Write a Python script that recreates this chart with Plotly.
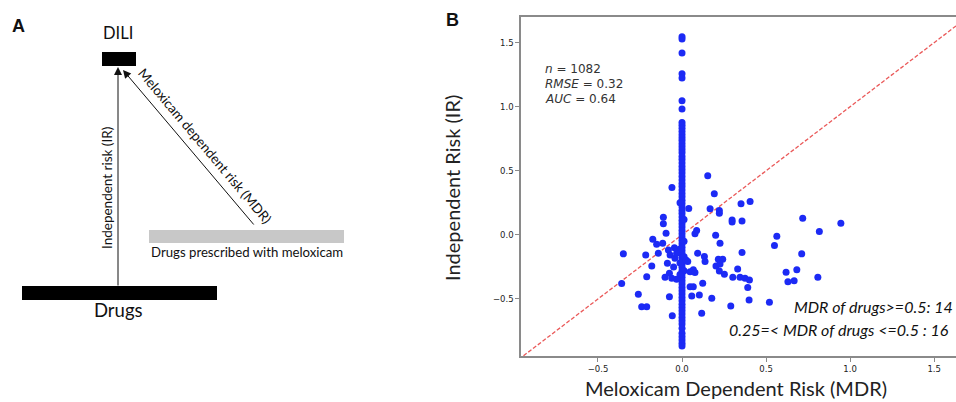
import plotly.graph_objects as go

W, H = 956, 402

# ---------------- data (panel B) ----------------
# drugs with MDR == 0 (vertical column)
col_y = [1.545, 1.529, 1.419, 1.258, 1.224, 1.047, 0.982,
         0.877, 0.855, 0.832, 0.806, 0.781, 0.758, 0.737, 0.712, 0.688, 0.664,
         0.640, 0.612, 0.588, 0.561, 0.533, 0.508, 0.482, 0.455, 0.428, 0.401,
         0.377, 0.350, 0.322, 0.297, 0.271, 0.244, 0.218, 0.190, 0.166, 0.139,
         0.112, 0.086, 0.061, 0.034, 0.008, -0.017, -0.044, -0.070, -0.097,
         -0.122, -0.148, -0.175, -0.201, -0.228, -0.253, -0.279, -0.306, -0.331,
         -0.358, -0.383, -0.410, -0.436, -0.462, -0.489, -0.514, -0.541, -0.566,
         -0.592, -0.618, -0.644, -0.670, -0.696, -0.729, -0.768, -0.794, -0.820,
         -0.846, -0.867]
col_x = [0.0] * len(col_y)
# slight spread of the column around 0
col_side_x = [0.012, -0.012, 0.012, -0.012, 0.012, -0.012, 0.012, -0.012]
col_side_y = [-0.05, -0.11, -0.17, -0.22, -0.28, -0.31, 0.12, 0.25]

# other drugs
mdr = [-0.349, -0.359, -0.111, -0.111, -0.095, -0.174, -0.151, -0.115, -0.216,
       -0.180, -0.141, -0.081, -0.071, -0.087, -0.042, -0.032, -0.210, -0.101,
       -0.075, -0.061, -0.032, -0.260, -0.075, -0.240, -0.210, -0.058, -0.060,
       -0.045, -0.050,
       0.040, 0.153, 0.192, 0.167, 0.222, 0.222, 0.351, 0.405, 0.298, 0.298,
       0.357, 0.087, 0.077, 0.200, 0.226, 0.564, 0.550, 0.357, 0.093, 0.133,
       0.137, 0.216, 0.242, 0.202, 0.226, 0.067, 0.048, 0.077, 0.222, 0.252,
       0.331, 0.302, 0.345, 0.375, 0.401, 0.619, 0.630, 0.123, 0.048, 0.067,
       0.391, 0.058, 0.103, 0.177, 0.399, 0.520, 0.290, 0.718, 0.945, 0.817,
       0.712, 0.683, 0.667, 0.808, 0.117, 0.024, 0.034]
ir = [-0.148, -0.380, 0.138, 0.086, 0.013, -0.034, -0.073, -0.065, -0.156,
      -0.242, -0.143, -0.117, -0.156, -0.221, -0.182, -0.143, -0.326, -0.331,
      -0.299, -0.339, -0.346, -0.464, -0.482, -0.560, -0.560, -0.630, 0.370,
      -0.100, -0.250,
      0.205, 0.461, 0.320, 0.203, 0.190, 0.169, 0.242, 0.260, 0.117, 0.100,
      0.109, 0.034, 0.008, -0.003, -0.065, -0.010, -0.083, -0.138, -0.143, -0.169,
      -0.208, -0.190, -0.190, -0.242, -0.227, -0.273, -0.287, -0.294, -0.281, -0.307,
      -0.266, -0.331, -0.331, -0.339, -0.352, -0.292, -0.365, -0.378, -0.404, -0.404,
      -0.411, -0.477, -0.469, -0.495, -0.508, -0.526, -0.555, 0.130, 0.091, 0.026,
      -0.148, -0.273, -0.357, -0.331, -0.612, -0.195, -0.208]

diag = [-1.0, 1.8]
x_ticks = [-0.5, 0.0, 0.5, 1.0, 1.5]
x_tick_labels = ["\u22120.5", "0.0", "0.5", "1.0", "1.5"]
y_ticks = [-0.5, 0.0, 0.5, 1.0, 1.5]
y_tick_labels = ["\u22120.5", "0.0", "0.5", "1.0", "1.5"]
stats_text = ["<i>n</i> = 1082", "<i>RMSE</i> = 0.32", "<i>AUC</i> = 0.64"]
count_text = ["MDR of drugs>=0.5: 14", "0.25=< MDR of drugs <=0.5 : 16"]

# ---------------- helpers ----------------
def px(x):
    return x / W


def py(y):
    return 1 - y / H


BLUE = "#1c2af5"
SPINE = "#8a8a8a"

fig = go.Figure()

fig.add_trace(go.Scatter(x=diag, y=diag, mode="lines",
                         line=dict(color="rgba(232,70,70,0.9)", width=1.3, dash="4px,2px"),
                         hoverinfo="skip", showlegend=False))
fig.add_trace(go.Scatter(x=col_x + col_side_x + mdr, y=col_y + col_side_y + ir,
                         mode="markers",
                         marker=dict(color=BLUE, size=7, line=dict(width=0)),
                         showlegend=False))

fig.update_layout(
    width=W, height=H,
    margin=dict(l=0, r=0, t=0, b=0),
    paper_bgcolor="white", plot_bgcolor="white",
    font=dict(family="Lato", color="#222"),
    xaxis=dict(domain=[px(521), 1.0], range=[-0.958, 1.63],
               tickvals=x_ticks, ticktext=x_tick_labels,
               tickfont=dict(family="DejaVu Sans", size=8.5, color="#222"),
               ticks="outside", ticklen=4, tickcolor=SPINE, tickwidth=1,
               showline=True, linecolor=SPINE, linewidth=1.5, mirror=True,
               showgrid=False, zeroline=False),
    yaxis=dict(domain=[py(356), py(17)], range=[-0.945, 1.70],
               tickvals=y_ticks, ticktext=y_tick_labels,
               tickfont=dict(family="DejaVu Sans", size=8.5, color="#222"),
               ticks="outside", ticklen=4, tickcolor=SPINE, tickwidth=1,
               showline=True, linecolor=SPINE, linewidth=1.5, mirror=False,
               showgrid=False, zeroline=False),
)

ann = []
shapes = []

# ---------------- panel labels ----------------
ann.append(dict(x=px(18), y=py(26), text="<b>A</b>", font=dict(family="Liberation Sans", size=18, color="#111")))
ann.append(dict(x=px(452), y=py(20), text="<b>B</b>", font=dict(family="Liberation Sans", size=18, color="#111")))

# ---------------- panel B texts ----------------
ann.append(dict(x=px(736), y=py(388), text="Meloxicam Dependent Risk (MDR)",
                font=dict(family="Lato", size=20, color="#222")))
ann.append(dict(x=px(452), y=py(188), text="Independent Risk (IR)", textangle=-90,
                font=dict(family="Lato", size=20, color="#222")))
for i, t in enumerate(stats_text):
    ann.append(dict(x=px(543), y=py(69 + 15 * i), text=t, xanchor="left",
                    font=dict(family="DejaVu Sans", size=12, color="#333")))
ann.append(dict(x=px(955), y=py(306), text="<i>" + count_text[0] + "</i>", xanchor="right",
                font=dict(family="Lato", size=16, color="#111")))
ann.append(dict(x=px(951), y=py(329), text="<i>" + count_text[1] + "</i>", xanchor="right",
                font=dict(family="Lato", size=16, color="#111")))

# ---------------- panel A diagram ----------------
def rect(x0, y0, x1, y1, color):
    shapes.append(dict(type="rect", xref="paper", yref="paper",
                       x0=px(x0), x1=px(x1), y0=py(y1), y1=py(y0),
                       fillcolor=color, line=dict(width=0), layer="above"))

rect(102, 52, 136, 66, "#000")       # DILI bar
rect(149, 230, 344, 243, "#c8c8c8")  # drugs with meloxicam
rect(22, 286, 217, 300, "#000")      # drugs bar

ann.append(dict(x=px(118), y=py(33), text="DILI", font=dict(family="Lato", size=16.5, color="#111")))
ann.append(dict(x=px(118), y=py(310), text="Drugs", font=dict(family="Lato", size=18.5, color="#111")))
ann.append(dict(x=px(149), y=py(252), text="Drugs prescribed with meloxicam", xanchor="left",
                font=dict(family="Lato", size=13.2, color="#111")))
ann.append(dict(x=px(107), y=py(188), text="Independent risk (IR)", textangle=-90,
                font=dict(family="Lato", size=13.5, color="#111")))
ann.append(dict(x=px(205), y=py(146), text="Meloxicam dependent risk (MDR)", textangle=49.8,
                font=dict(family="Lato", size=13.5, color="#111")))

# arrows
ann.append(dict(x=px(118), y=py(67), ax=0, ay=287 - 67, text="", showarrow=True,
                arrowhead=2, arrowsize=1.6, arrowwidth=1, arrowcolor="#111"))
ann.append(dict(x=px(123), y=py(70), ax=255 - 123, ay=226 - 70, text="", showarrow=True,
                arrowhead=2, arrowsize=1.6, arrowwidth=1, arrowcolor="#111"))

for a in ann:
    a.setdefault("xref", "paper")
    a.setdefault("yref", "paper")
    a.setdefault("showarrow", False)
    a.setdefault("xanchor", "center")
    a.setdefault("yanchor", "middle")

fig.update_layout(annotations=ann, shapes=shapes)
fig.write_html("out.html", config={"displayModeBar": False},
               post_script="document.body.style.margin='0';document.body.style.overflow='hidden';")
